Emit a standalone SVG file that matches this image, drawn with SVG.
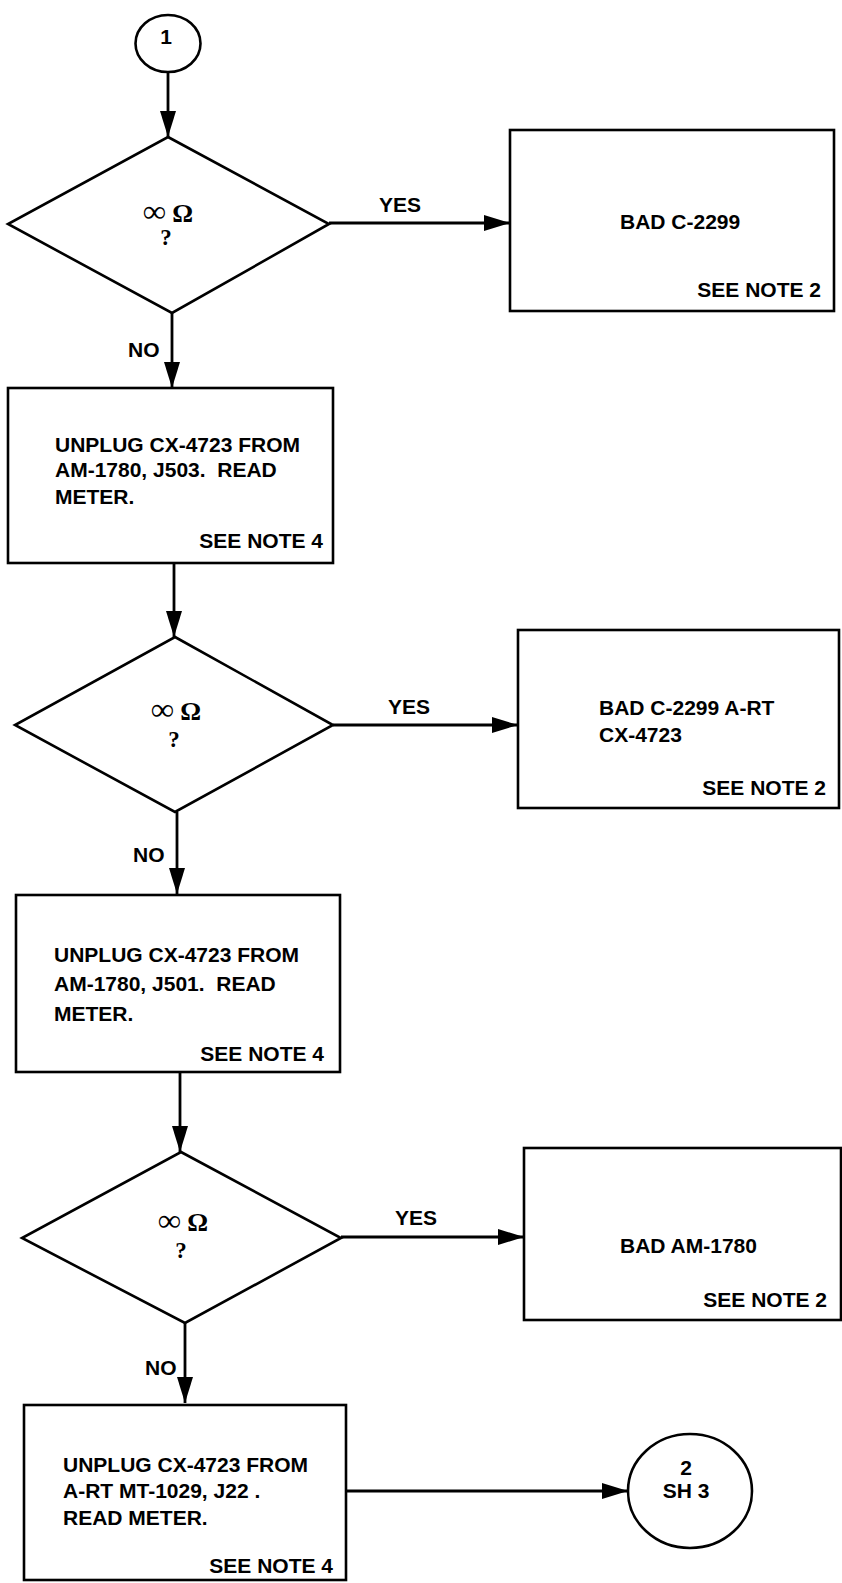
<svg xmlns="http://www.w3.org/2000/svg" width="842" height="1583" viewBox="0 0 842 1583">
<style>
.shape{fill:none;stroke:#000;stroke-width:2.6}
.conn{fill:none;stroke:#000;stroke-width:2.8}
.t{font-family:"Liberation Sans",Arial,sans-serif;font-weight:bold;font-size:21px;fill:#000}
.tm{font-family:"Liberation Sans",Arial,sans-serif;font-weight:bold;font-size:21px;fill:#000;text-anchor:middle}
.te{font-family:"Liberation Sans",Arial,sans-serif;font-weight:bold;font-size:21px;fill:#000;text-anchor:end}
.s{font-family:"Liberation Serif","Times New Roman",serif;font-weight:bold;font-size:26px;fill:#000;text-anchor:middle}
.inf{font-size:32px}
.q{font-family:"Liberation Serif","Times New Roman",serif;font-weight:bold;font-size:23px;fill:#000;text-anchor:middle}
</style>
<defs>
<marker id="ah" markerUnits="userSpaceOnUse" markerWidth="28" markerHeight="18" refX="26" refY="8" orient="auto">
<path d="M0,0 L26,8 L0,16 z" fill="#000"/>
</marker>
</defs>
<rect width="842" height="1583" fill="#fff"/>
<g id="connectors">
<path class="conn" d="M168,72 V137" marker-end="url(#ah)"/>
<path class="conn" d="M329,223 H510" marker-end="url(#ah)"/>
<path class="conn" d="M172,313 V388" marker-end="url(#ah)"/>
<path class="conn" d="M174,563 V637" marker-end="url(#ah)"/>
<path class="conn" d="M333,725 H518" marker-end="url(#ah)"/>
<path class="conn" d="M177,812 V894" marker-end="url(#ah)"/>
<path class="conn" d="M180,1072 V1152" marker-end="url(#ah)"/>
<path class="conn" d="M341,1237 H524" marker-end="url(#ah)"/>
<path class="conn" d="M185,1323 V1403" marker-end="url(#ah)"/>
<path class="conn" d="M346,1491 H628" marker-end="url(#ah)"/>
<text class="t" x="400" y="212" text-anchor="middle">YES</text>
<text class="t" x="128" y="357">NO</text>
<text class="t" x="409" y="714" text-anchor="middle">YES</text>
<text class="t" x="133" y="862">NO</text>
<text class="t" x="416" y="1225" text-anchor="middle">YES</text>
<text class="t" x="145" y="1375">NO</text>
</g>
<g id="start1">
<ellipse class="shape" cx="168" cy="43.5" rx="32.5" ry="28.5"/>
<text class="tm" x="166" y="44">1</text>
</g>
<g id="dec1">
<path class="shape" d="M168,137 L329,224 L172,313 L8,224 z"/>
<text class="s" x="168" y="222"><tspan class="inf">∞</tspan> Ω</text>
<text class="q" x="166" y="245">?</text>
</g>
<g id="bad1">
<rect class="shape" x="510" y="130" width="324" height="181"/>
<text class="t" x="620" y="229">BAD C-2299</text>
<text class="te" x="821" y="297">SEE NOTE 2</text>
</g>
<g id="step1">
<rect class="shape" x="8" y="388" width="325" height="175"/>
<text class="t" x="55" y="452">UNPLUG CX-4723 FROM</text>
<text class="t" x="55" y="477" xml:space="preserve">AM-1780, J503.  READ</text>
<text class="t" x="55" y="504">METER.</text>
<text class="te" x="323" y="548">SEE NOTE 4</text>
</g>
<g id="dec2">
<path class="shape" d="M175,637 L333,725 L175,812 L15,725 z"/>
<text class="s" x="176" y="720"><tspan class="inf">∞</tspan> Ω</text>
<text class="q" x="174" y="747">?</text>
</g>
<g id="bad2">
<rect class="shape" x="518" y="630" width="321" height="178"/>
<text class="t" x="599" y="715">BAD C-2299 A-RT</text>
<text class="t" x="599" y="742">CX-4723</text>
<text class="te" x="826" y="795">SEE NOTE 2</text>
</g>
<g id="step2">
<rect class="shape" x="16" y="895" width="324" height="177"/>
<text class="t" x="54" y="962">UNPLUG CX-4723 FROM</text>
<text class="t" x="54" y="991" xml:space="preserve">AM-1780, J501.  READ</text>
<text class="t" x="54" y="1021">METER.</text>
<text class="te" x="324" y="1061">SEE NOTE 4</text>
</g>
<g id="dec3">
<path class="shape" d="M181,1152 L341,1238 L185,1323 L22,1238 z"/>
<text class="s" x="183" y="1231"><tspan class="inf">∞</tspan> Ω</text>
<text class="q" x="181" y="1258">?</text>
</g>
<g id="bad3">
<rect class="shape" x="524" y="1148" width="317" height="172"/>
<text class="t" x="620" y="1253">BAD AM-1780</text>
<text class="te" x="827" y="1307">SEE NOTE 2</text>
</g>
<g id="step3">
<rect class="shape" x="24" y="1405" width="322" height="175"/>
<text class="t" x="63" y="1472">UNPLUG CX-4723 FROM</text>
<text class="t" x="63" y="1498">A-RT MT-1029, J22 .</text>
<text class="t" x="63" y="1525">READ METER.</text>
<text class="te" x="333" y="1573">SEE NOTE 4</text>
</g>
<g id="conn2">
<ellipse class="shape" cx="690" cy="1491" rx="62" ry="57"/>
<text class="tm" x="686" y="1475">2</text>
<text class="tm" x="686" y="1498">SH 3</text>
</g>
</svg>
